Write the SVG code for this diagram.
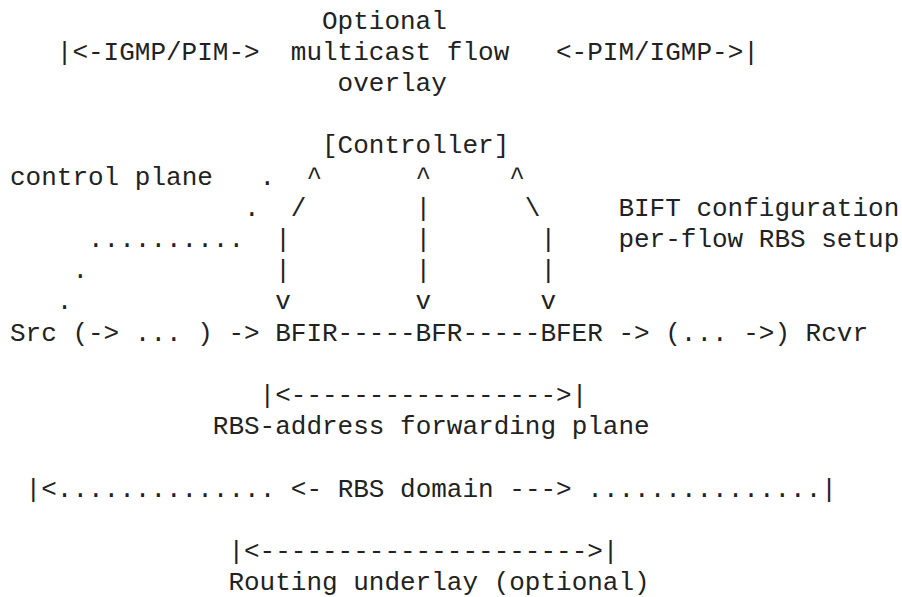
<svg xmlns="http://www.w3.org/2000/svg" width="902" height="597" viewBox="0 0 902 597">
<style>
text{font-family:"Liberation Mono","DejaVu Sans Mono",monospace;font-size:26px;fill:#222;white-space:pre}
</style>
<rect width="902" height="597" fill="#fff"/>
<g id="labels" xml:space="preserve">
<text x="322" y="28.5">Optional</text>
<text x="290.8" y="59.7">multicast flow</text>
<text x="337.6" y="90.9">overlay</text>
<text x="10" y="184.5">control plane</text>
<text x="618.4" y="215.7">BIFT configuration</text>
<text x="618.4" y="246.9">per-flow RBS setup</text>
<text x="212.8" y="434.1">RBS-address forwarding plane</text>
<text x="228.4" y="590.1">Routing underlay (optional)</text>
</g>
<g id="controller"><text x="322" y="153.3">[Controller]</text></g>
<g id="src"><text x="10" y="340.5">Src</text></g>
<g id="bfir"><text x="275.2" y="340.5">BFIR</text></g>
<g id="bfr"><text x="415.6" y="340.5">BFR</text></g>
<g id="bfer"><text x="540.4" y="340.5">BFER</text></g>
<g id="rcvr"><text x="805.6" y="340.5">Rcvr</text></g>
<g id="connectors" xml:space="preserve">
<text x="56.8" y="59.7">|&lt;-IGMP/PIM-&gt;</text>
<text x="556" y="59.7">&lt;-PIM/IGMP-&gt;|</text>
<text x="259.6" y="184.5">.</text>
<text x="306.4" y="184.5">^</text>
<text x="415.6" y="184.5">^</text>
<text x="509.2" y="184.5">^</text>
<text x="244" y="215.7">.</text>
<text x="290.8" y="215.7">/</text>
<text x="415.6" y="215.7">|</text>
<text x="524.8" y="215.7">\</text>
<text x="88" y="246.9">..........</text>
<text x="275.2" y="246.9">|</text>
<text x="415.6" y="246.9">|</text>
<text x="540.4" y="246.9">|</text>
<text x="72.4" y="278.1">.</text>
<text x="275.2" y="278.1">|</text>
<text x="415.6" y="278.1">|</text>
<text x="540.4" y="278.1">|</text>
<text x="56.8" y="309.3">.</text>
<text x="275.2" y="309.3">v</text>
<text x="415.6" y="309.3">v</text>
<text x="540.4" y="309.3">v</text>
<text x="72.4" y="340.5">(-&gt; ... ) -&gt;</text>
<text x="337.6" y="340.5">-----</text>
<text x="462.4" y="340.5">-----</text>
<text x="618.4" y="340.5">-&gt; (... -&gt;)</text>
<text x="259.6" y="402.9">|&lt;-----------------&gt;|</text>
<text x="25.6" y="496.5">|&lt;.............. &lt;- RBS domain ---&gt; ...............|</text>
<text x="228.4" y="558.9">|&lt;---------------------&gt;|</text>
</g>
</svg>
